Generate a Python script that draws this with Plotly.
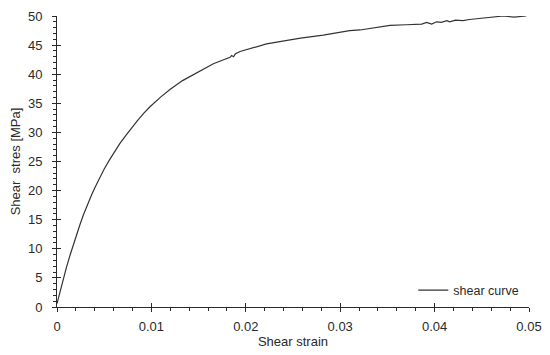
import plotly.graph_objects as go

strain = [0.0, 0.0003, 0.00067, 0.0010, 0.00138, 0.0017, 0.00208, 0.0024, 0.00279, 0.0032,
          0.00367, 0.0041, 0.00456, 0.0050, 0.00561, 0.0061, 0.00667, 0.0073,
          0.00791, 0.0085, 0.0092, 0.00985, 0.0110, 0.0120, 0.0133, 0.0148, 0.01656, 0.01833, 0.0185,
          0.0187, 0.0189, 0.01939, 0.0208, 0.0222, 0.0236, 0.0258, 0.0282, 0.0296,
          0.0310, 0.0321, 0.03457, 0.03528, 0.0370, 0.03863, 0.03916, 0.03969, 0.0402,
          0.0407, 0.0413, 0.0416, 0.0422, 0.0430, 0.0437, 0.0448, 0.0459, 0.0473,
          0.0484, 0.0494, 0.0497]
stress = [0.6, 2.6, 4.9, 6.8, 8.9, 10.6, 12.5, 14.0, 15.8, 17.5,
          19.3, 20.8, 22.3, 23.7, 25.4, 26.7, 28.1, 29.5,
          30.8, 32.0, 33.3, 34.4, 36.1, 37.4, 38.9, 40.3, 41.8, 42.9, 43.2,
          43.0, 43.5, 43.9, 44.6, 45.2, 45.6, 46.2, 46.7, 47.1,
          47.5, 47.6, 48.2, 48.4, 48.5, 48.6, 48.9, 48.6, 49.0,
          48.9, 49.2, 49.0, 49.3, 49.2, 49.4, 49.6, 49.8, 50.0,
          49.8, 50.0, 50.0]

x_ticks = [0, 0.01, 0.02, 0.03, 0.04, 0.05]
x_tick_labels = ["0", "0.01", "0.02", "0.03", "0.04", "0.05"]
y_ticks = [0, 5, 10, 15, 20, 25, 30, 35, 40, 45, 50]

FONT = "Liberation Sans, Arial, sans-serif"
INK = "#2a2a2a"

fig = go.Figure()
fig.add_trace(go.Scatter(x=strain, y=stress, mode="lines", name="shear curve",
                         line=dict(color="#333333", width=1.2)))
# transparent copy on a coincident subplot whose axes draw the inner halves of crossing ticks
fig.add_trace(go.Scatter(x=strain, y=stress, xaxis="x2", yaxis="y2", mode="lines",
                         line=dict(color="rgba(0,0,0,0)", width=1),
                         showlegend=False, hoverinfo="skip"))

axis_common = dict(showgrid=False, zeroline=False, showline=True, linecolor=INK,
                   linewidth=1, tickcolor=INK, tickwidth=1, automargin=False,
                   tickfont=dict(family=FONT, size=13, color=INK))

fig.update_layout(
    width=550, height=355,
    margin=dict(l=49, r=29, t=8, b=56),
    paper_bgcolor="white", plot_bgcolor="rgba(0,0,0,0)",
    font=dict(family=FONT, color=INK, size=13),
    xaxis=dict(domain=[0, 1], range=[0, 0.05], tickvals=x_ticks, ticktext=x_tick_labels,
               ticks="outside", ticklen=4, ticklabelstandoff=3,
               minor=dict(dtick=0.002, ticks="outside", ticklen=3, tickcolor=INK),
               title=dict(text="Shear strain", font=dict(family=FONT, size=13, color=INK),
                          standoff=0),
               **axis_common),
    yaxis=dict(domain=[0, 1], range=[0, 50], tickvals=y_ticks, ticks="outside", ticklen=4,
               ticklabelstandoff=7,
               minor=dict(dtick=1, ticks="outside", ticklen=3, tickcolor=INK),
               title=dict(text="Shear  stres [MPa]", font=dict(family=FONT, size=13, color=INK),
                          standoff=4),
               **axis_common),
    xaxis2=dict(domain=[0, 1], range=[0, 0.05], anchor="y2",
                tickvals=x_ticks, showticklabels=False, ticks="inside", ticklen=4,
                tickwidth=1, showgrid=False, zeroline=False, showline=False,
                tickcolor=INK, automargin=False),
    yaxis2=dict(domain=[0, 1], range=[0, 50], anchor="x2",
                tickvals=y_ticks, showticklabels=False, ticks="inside", ticklen=4,
                tickwidth=1, showgrid=False, zeroline=False, showline=False,
                tickcolor=INK, automargin=False),
    showlegend=True,
    legend=dict(x=0.99, y=0.005, xanchor="right", yanchor="bottom",
                bgcolor="rgba(0,0,0,0)", font=dict(family=FONT, size=12.5, color=INK),
                itemwidth=30, tracegroupgap=0),
)

fig.write_html("out.html")
